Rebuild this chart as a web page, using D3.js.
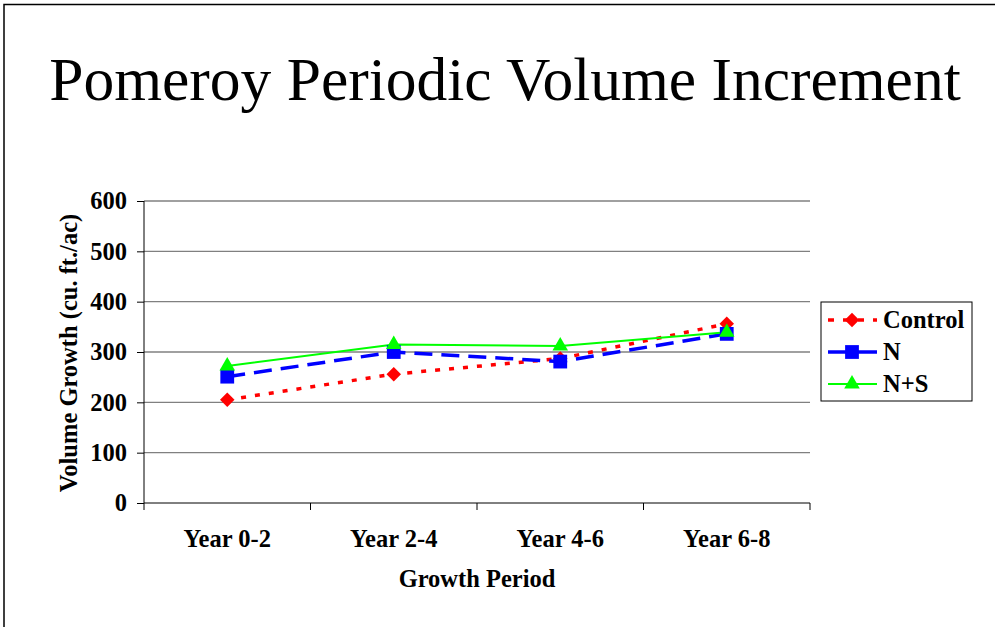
<!DOCTYPE html>
<html><head><meta charset="utf-8">
<script src="https://cdn.jsdelivr.net/npm/d3@7"></script>
<style>body{margin:0;background:#fff}svg{display:block}</style>
</head><body>
<svg id="c" width="995" height="627"></svg>
<script>
const categories = ["Year 0-2","Year 2-4","Year 4-6","Year 6-8"];
const control = [205, 256, 287, 356];
const nOnly = [251, 300, 281, 336];
const nPlusS = [272, 315, 312, 339];
const yTicks = [0,100,200,300,400,500,600];
const seriesNames = ["Control","N","N+S"];

const svg = d3.select("#c");
const font = "'Liberation Serif','Times New Roman',serif";
const fs = 24.5;
// frame
svg.append("path").attr("d","M4,640 V4.5 H1000").attr("fill","none").attr("stroke","#000").attr("stroke-width",1.5);

svg.append("text").attr("x",505).attr("y",100).attr("text-anchor","middle")
  .attr("font-family",font).attr("font-size",61.5).text("Pomeroy Periodic Volume Increment");

const L=144, R=810, T=201, B=503;
const x = d3.scalePoint().domain(categories).range([L,R]).padding(0.5);
const xb = d3.scaleBand().domain(categories).range([L,R]);
const y = d3.scaleLinear().domain([0,600]).range([B,T]);

// gridlines
svg.append("g").selectAll("line").data(yTicks.filter(d=>d>0)).join("line")
  .attr("x1",L).attr("x2",R).attr("y1",d=>y(d)).attr("y2",d=>y(d))
  .attr("stroke","#808080").attr("stroke-width",1.3);

// y axis
const ya = svg.append("g").attr("transform",`translate(${L},0)`)
  .call(d3.axisLeft(y).tickValues(yTicks).tickSize(7).tickPadding(10));
ya.select(".domain").attr("stroke","#000").attr("d",`M0,${B}V${T}`);
ya.selectAll("text").attr("font-family",font).attr("font-size",fs).attr("font-weight","bold").attr("fill","#000");

// x axis
const xa = svg.append("g").attr("transform",`translate(0,${B})`);
xa.append("line").attr("x1",L).attr("x2",R).attr("stroke","#000");
xa.selectAll("line.t").data(categories.concat(["end"])).join("line").attr("class","t")
  .attr("x1",(d,i)=>i<categories.length?xb(d):R).attr("x2",(d,i)=>i<categories.length?xb(d):R)
  .attr("y1",0).attr("y2",7).attr("stroke","#000");
xa.selectAll("text").data(categories).join("text")
  .attr("x",d=>x(d)).attr("y",44).attr("text-anchor","middle")
  .attr("font-family",font).attr("font-size",fs).attr("font-weight","bold").text(d=>d);

svg.append("text").attr("x",477).attr("y",587).attr("text-anchor","middle")
  .attr("font-family",font).attr("font-size",fs).attr("font-weight","bold").text("Growth Period");
svg.append("text").attr("transform",`translate(77,353) rotate(-90)`).attr("text-anchor","middle")
  .attr("font-family",font).attr("font-size",fs).attr("font-weight","bold").text("Volume Growth (cu. ft./ac)");

const series = [
  {name:seriesNames[0], vals:control, color:"#ff0000", dash:"5,9", w:3.5, sym:d3.symbolSquare, size:105, rot:45},
  {name:seriesNames[1], vals:nOnly, color:"#0000ff", dash:"18,9", w:3.5, sym:d3.symbolSquare, size:190, rot:0},
  {name:seriesNames[2], vals:nPlusS, color:"#00ff00", dash:null, w:2, sym:d3.symbolTriangle, size:105, rot:0}
];
const line = d3.line().x((d,i)=>x(categories[i])).y(d=>y(d));
series.forEach(s=>{
  svg.append("path").attr("d",line(s.vals)).attr("fill","none").attr("stroke",s.color)
    .attr("stroke-width",s.w).attr("stroke-dasharray",s.dash);
});
series.forEach(s=>{
  svg.append("g").selectAll("path").data(s.vals).join("path")
    .attr("d",d3.symbol().type(s.sym).size(s.size))
    .attr("transform",(d,i)=>`translate(${x(categories[i])},${y(d)}) rotate(${s.rot})`)
    .attr("fill",s.color);
});

// legend
const lg = svg.append("g");
lg.append("rect").attr("x",821).attr("y",302).attr("width",151).attr("height",99)
  .attr("fill","#fff").attr("stroke","#000").attr("stroke-width",1);
series.forEach((s,i)=>{
  const cy = 320 + i*32;
  lg.append("line").attr("x1",828).attr("x2",877).attr("y1",cy).attr("y2",cy)
    .attr("stroke",s.color).attr("stroke-width",s.w).attr("stroke-dasharray",i===0?"6,9":null);
  lg.append("path").attr("d",d3.symbol().type(s.sym).size(s.size)).attr("transform",`translate(852,${cy}) rotate(${s.rot})`).attr("fill",s.color);
  lg.append("text").attr("x",883).attr("y",cy+8).attr("font-family",font).attr("font-size",fs)
    .attr("font-weight","bold").text(s.name);
});
</script>
</body></html>
